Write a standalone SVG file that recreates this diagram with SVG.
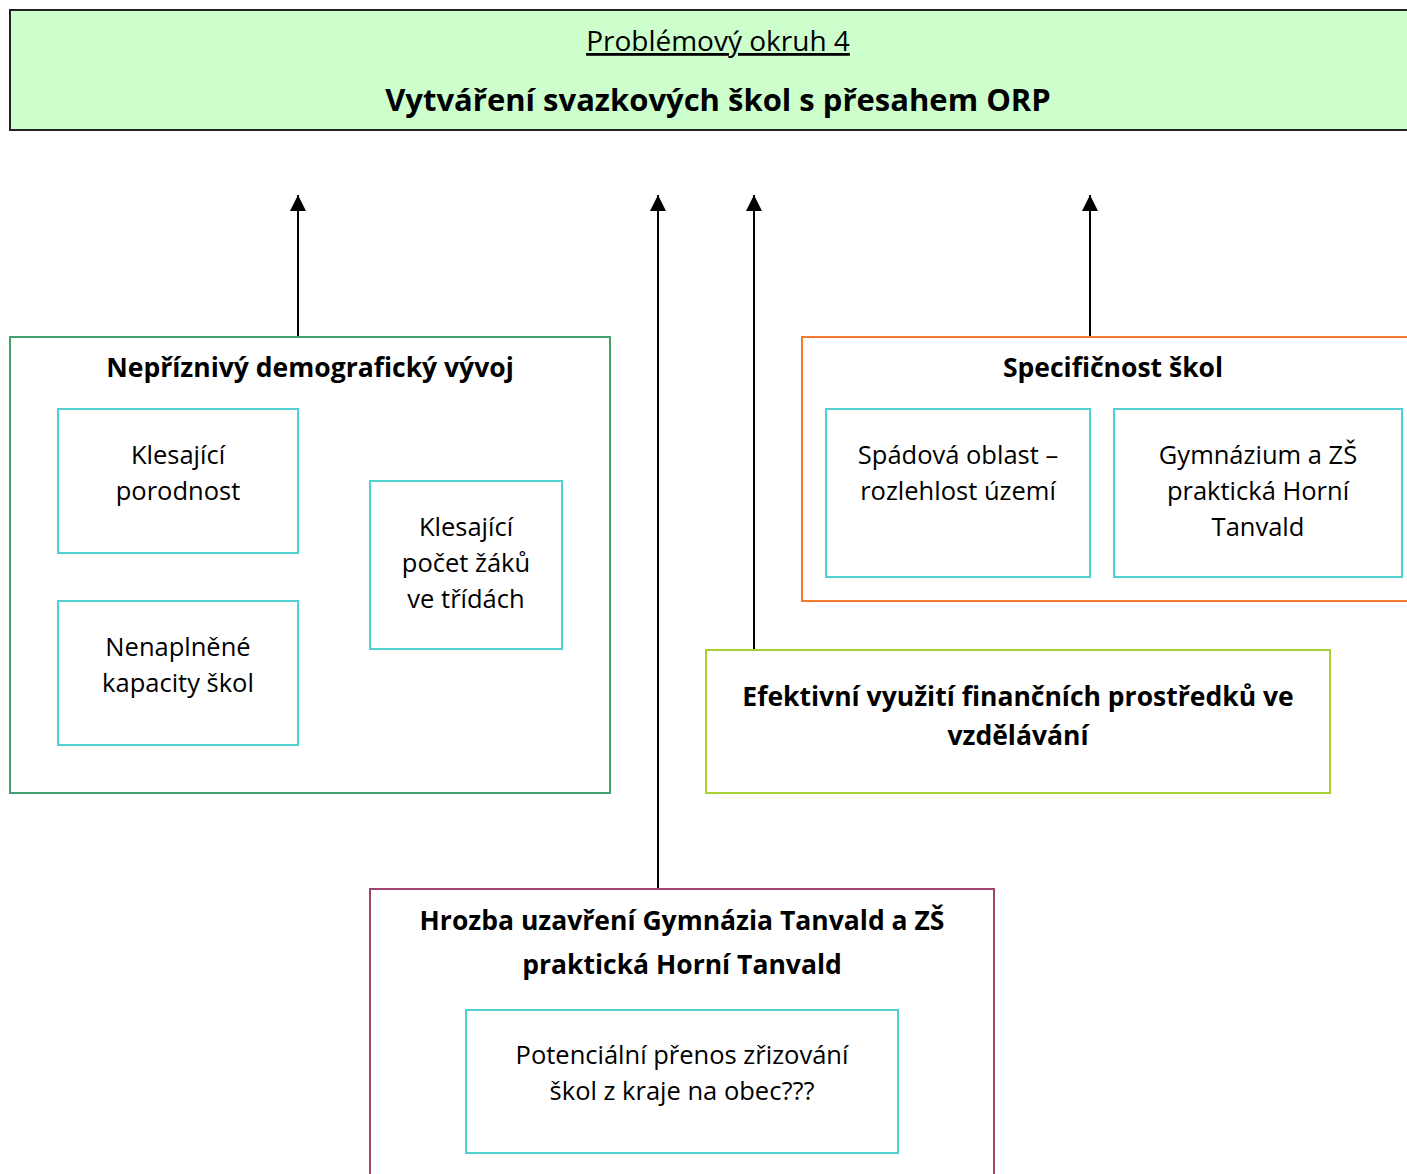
<svg xmlns="http://www.w3.org/2000/svg" width="1407" height="1174" viewBox="0 0 1407 1174">
<defs>
<marker id="ah" viewBox="0 0 10 10" refX="10" refY="5" markerWidth="16" markerHeight="16" markerUnits="userSpaceOnUse" orient="auto">
<path d="M0,0 L10,5 L0,10 z" fill="#000"/>
</marker>
<style>
text{font-family:"Open Sans","Liberation Sans",sans-serif;fill:#000;text-anchor:middle}
.t{font-size:25.5px}
.b{font-size:26.5px;font-weight:bold}
.in{fill:#fff;stroke:#4fd1d1;stroke-width:2}
.conn{stroke:#000;stroke-width:2;fill:none}
</style>
</defs>
<rect width="1407" height="1174" fill="#fff"/>
<g id="header">
<rect x="10" y="10" width="1410" height="120" fill="#ccffcc" stroke="#222" stroke-width="2"/>
<text x="718" y="51" style="font-size:28px;text-decoration:underline">Problémový okruh 4</text>
<text x="718" y="111" style="font-size:31px;font-weight:bold">Vytváření svazkových škol s přesahem ORP</text>
</g>
<g id="connectors">
<line class="conn" x1="298" y1="337" x2="298" y2="195" marker-end="url(#ah)"/>
<line class="conn" x1="658" y1="889" x2="658" y2="195" marker-end="url(#ah)"/>
<line class="conn" x1="754" y1="650" x2="754" y2="195" marker-end="url(#ah)"/>
<line class="conn" x1="1090" y1="337" x2="1090" y2="195" marker-end="url(#ah)"/>
</g>
<g id="demografie">
<rect x="10" y="337" width="600" height="456" fill="#fff" stroke="#45a070" stroke-width="2"/>
<text class="b" x="310" y="377">Nepříznivý demografický vývoj</text>
</g>
<g id="porodnost">
<rect class="in" x="58" y="409" width="240" height="144"/>
<text class="t" x="178" y="464">Klesající</text>
<text class="t" x="178" y="500">porodnost</text>
</g>
<g id="kapacity">
<rect class="in" x="58" y="601" width="240" height="144"/>
<text class="t" x="178" y="656">Nenaplněné</text>
<text class="t" x="178" y="692">kapacity škol</text>
</g>
<g id="pocet-zaku">
<rect class="in" x="370" y="481" width="192" height="168"/>
<text class="t" x="466" y="536">Klesající</text>
<text class="t" x="466" y="572">počet žáků</text>
<text class="t" x="466" y="608">ve třídách</text>
</g>
<g id="specificnost">
<rect x="802" y="337" width="620" height="264" fill="#fff" stroke="#f47a30" stroke-width="2"/>
<text class="b" x="1113" y="377">Specifičnost škol</text>
</g>
<g id="spadova">
<rect class="in" x="826" y="409" width="264" height="168"/>
<text class="t" x="958" y="464">Spádová oblast –</text>
<text class="t" x="958" y="500">rozlehlost území</text>
</g>
<g id="gymnazium">
<rect class="in" x="1114" y="409" width="288" height="168"/>
<text class="t" x="1258" y="464">Gymnázium a ZŠ</text>
<text class="t" x="1258" y="500">praktická Horní</text>
<text class="t" x="1258" y="536">Tanvald</text>
</g>
<g id="efektivni">
<rect x="706" y="650" width="624" height="143" fill="#fff" stroke="#a8d030" stroke-width="2"/>
<text class="b" x="1018" y="706">Efektivní využití finančních prostředků ve</text>
<text class="b" x="1018" y="745">vzdělávání</text>
</g>
<g id="hrozba">
<rect x="370" y="889" width="624" height="300" fill="#fff" stroke="#a0446e" stroke-width="2"/>
<text class="b" x="682" y="930">Hrozba uzavření Gymnázia Tanvald a ZŠ</text>
<text class="b" x="682" y="974">praktická Horní Tanvald</text>
</g>
<g id="prenos">
<rect class="in" x="466" y="1010" width="432" height="143"/>
<text class="t" x="682" y="1064">Potenciální přenos zřizování</text>
<text class="t" x="682" y="1100">škol z kraje na obec???</text>
</g>
</svg>
